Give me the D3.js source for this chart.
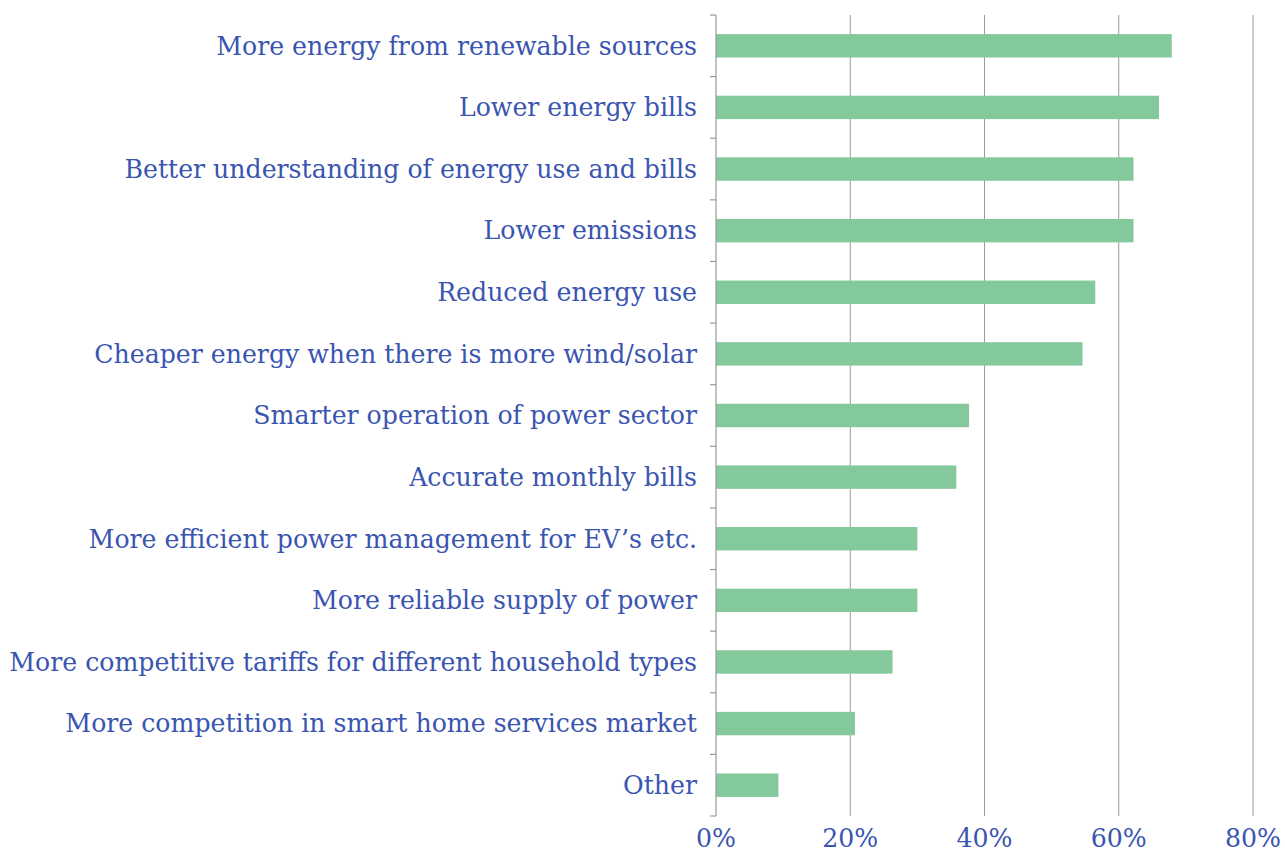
<!DOCTYPE html>
<html>
<head>
<meta charset="utf-8">
<script src="https://cdn.jsdelivr.net/npm/d3@7"></script>
<style>
  html, body { margin: 0; padding: 0; background: #fff; }
  svg { display: block; }
  text { font-family: "DejaVu Serif", serif; fill: #3a55b0; }
</style>
</head>
<body>
<svg id="chart" width="1285" height="851"></svg>
<script>
const categories = [
  "More energy from renewable sources",
  "Lower energy bills",
  "Better understanding of energy use and bills",
  "Lower emissions",
  "Reduced energy use",
  "Cheaper energy when there is more wind/solar",
  "Smarter operation of power sector",
  "Accurate monthly bills",
  "More efficient power management for EV\u2019s etc.",
  "More reliable supply of power",
  "More competitive tariffs for different household types",
  "More competition in smart home services market",
  "Other"
];
const values = [67.9, 66.0, 62.2, 62.2, 56.5, 54.6, 37.7, 35.8, 30.0, 30.0, 26.3, 20.7, 9.3];
const xTicks = [0, 20, 40, 60, 80];

const width = 1285, height = 851;
const margin = { top: 15, right: 32, bottom: 35, left: 716 };
const svg = d3.select("#chart");

const x = d3.scaleLinear().domain([0, 80]).range([margin.left, width - margin.right]);
const y = d3.scaleBand().domain(categories).range([margin.top, height - margin.bottom]).paddingInner(0.62).paddingOuter(0.31);

// gridlines
svg.append("g").selectAll("line").data(xTicks.filter(d => d > 0)).join("line")
  .attr("x1", d => x(d)).attr("x2", d => x(d))
  .attr("y1", margin.top).attr("y2", height - margin.bottom)
  .attr("stroke", "#9a9a9a").attr("stroke-width", 1);

// bars
svg.append("g").selectAll("rect").data(values).join("rect")
  .attr("x", x(0))
  .attr("y", (d, i) => y(categories[i]))
  .attr("width", d => x(d) - x(0))
  .attr("height", y.bandwidth())
  .attr("fill", "#84c99b");

// y axis line + ticks at band boundaries
const step = y.step();
const bounds = d3.range(categories.length + 1).map(i => margin.top + i * step);
const yAxisG = svg.append("g");
yAxisG.append("line")
  .attr("x1", x(0)).attr("x2", x(0))
  .attr("y1", margin.top).attr("y2", height - margin.bottom)
  .attr("stroke", "#9a9a9a").attr("stroke-width", 1.2);
yAxisG.selectAll("line.tick").data(bounds).join("line").attr("class", "tick")
  .attr("x1", x(0) - 6).attr("x2", x(0))
  .attr("y1", d => d).attr("y2", d => d)
  .attr("stroke", "#9a9a9a").attr("stroke-width", 1.2);

// category labels
const labels = svg.append("g").selectAll("text").data(categories).join("text")
  .attr("x", x(0) - 19)
  .attr("y", d => y(d) + y.bandwidth() / 2)
  .attr("dy", "0.35em")
  .attr("text-anchor", "end")
  .attr("font-size", 24)
  .text(d => d);

// fit font size so the longest label spans the same width as the reference (~688px)
let maxW = 0;
labels.each(function() { maxW = Math.max(maxW, this.getComputedTextLength()); });
const fs = 24 * 688 / maxW;
labels.attr("font-size", fs);

// x tick labels
svg.append("g").selectAll("text").data(xTicks).join("text")
  .attr("x", d => x(d))
  .attr("y", 847)
  .attr("text-anchor", "middle")
  .attr("font-size", fs)
  .text(d => d + "%");
</script>
</body>
</html>
